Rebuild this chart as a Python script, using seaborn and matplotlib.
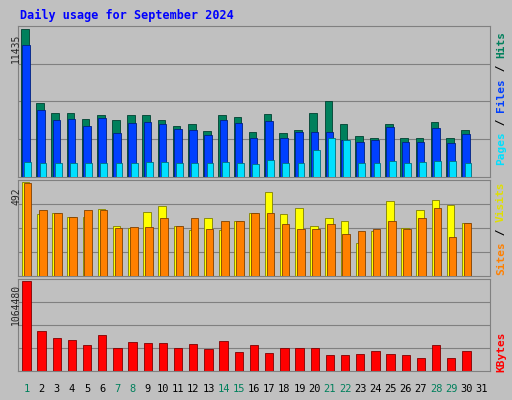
import matplotlib
matplotlib.use('Agg')
import matplotlib.pyplot as plt
import seaborn as sns
import numpy as np

days = list(range(1, 32))
weekend_days = [1, 7, 8, 14, 15, 21, 22, 28, 29]

hits = [11435, 5700, 4950, 4950, 4480, 4780, 4400, 4780, 4780, 4400, 3930, 4090, 3530, 4780,
        4620, 3450, 4860, 3370, 3610, 4950, 5880, 4090, 3130, 3050, 4090, 3050, 3050, 4240,
        2980, 3610, 0]
files = [10180, 5170, 4400, 4480, 3930, 4560, 3370, 4170, 4240, 4090, 3690, 3610, 3220, 4400,
         4170, 3050, 4320, 3050, 3450, 3450, 3450, 2820, 2740, 2820, 3840, 2740, 2740, 3770,
         2660, 3290, 0]
pages = [1180, 1100, 1100, 1100, 1100, 1100, 1100, 1100, 1180, 1180, 1100, 1100, 1100, 1180,
         1100, 1020, 1330, 1100, 1100, 2110, 2980, 2820, 1100, 1100, 1250, 1100, 1180, 1250,
         1250, 1100, 0]
visits = [492, 322, 328, 311, 311, 350, 262, 251, 333, 366, 262, 241, 301, 241, 290, 328,
          437, 322, 355, 262, 301, 290, 170, 235, 393, 251, 344, 399, 372, 279, 0]
sites = [486, 344, 328, 311, 344, 344, 251, 257, 257, 301, 262, 301, 246, 290, 290, 328,
         328, 273, 246, 246, 273, 219, 235, 246, 290, 246, 301, 355, 202, 279, 0]
kbytes = [1064480, 470000, 395000, 371000, 309000, 421000, 272000, 346000, 334000, 334000,
          272000, 322000, 260000, 358000, 223000, 309000, 210000, 272000, 272000, 272000,
          185000, 185000, 198000, 235000, 198000, 185000, 148000, 309000, 148000, 235000, 0]

sns.set_style('white')
plt.rcParams['font.family'] = ['DejaVu Sans Mono']

W, H = 512, 400
fig = plt.figure(figsize=(W / 100, H / 100), dpi=100)
fig.patch.set_facecolor('#c0c0c0')

def frac(x0, y0, x1, y1):
    return [x0 / W, 1 - y1 / H, (x1 - x0) / W, (y1 - y0) / H]

x = np.array(days)

def panel(rect, top):
    ax = fig.add_axes(rect)
    ax.set_facecolor('#c0c0c0')
    ax.set_xlim(0.45, 31.55)
    ax.set_ylim(0, top * 1.02)
    ax.set_xticks([])
    ax.set_yticks([])
    for f in (0.25, 0.5, 0.75):
        ax.axhline(top * 1.02 * f, color='#808080', lw=0.8, zorder=0)
    for s in ax.spines.values():
        s.set_color('#808080')
    return ax

ax1 = panel(frac(18, 26, 490, 177), max(hits))
ax1.bar(x - 0.1, hits, width=0.5, color='#00805c', edgecolor='#004030', lw=0.6, zorder=2)
ax1.bar(x - 0.02, files, width=0.5, color='#0040ff', edgecolor='#002080', lw=0.6, zorder=3)
ax1.bar(x + 0.1, pages, width=0.45, color='#00e0ff', edgecolor='#007080', lw=0.6, zorder=4)

ax2 = panel(frac(18, 180, 490, 276), max(visits))
ax2.bar(x - 0.05, visits, width=0.5, color='#ffff00', edgecolor='#808000', lw=0.6, zorder=2)
ax2.bar(x + 0.08, sites, width=0.5, color='#ff8000', edgecolor='#804000', lw=0.6, zorder=3)

ax3 = panel(frac(18, 279, 490, 371), max(kbytes))
ax3.bar(x, kbytes, width=0.55, color='#ff0000', edgecolor='#800000', lw=0.6, zorder=2)

fig.text(20 / W, 1 - 15 / H, 'Daily usage for September 2024', color='#0000ff',
         fontsize=8.5, fontweight='bold', va='center')
fig.text(16 / W, 1 - 48 / H, '11435', rotation=90, fontsize=7, ha='center', va='center')
fig.text(16 / W, 1 - 196 / H, '492', rotation=90, fontsize=7, ha='center', va='center')
fig.text(16 / W, 1 - 304 / H, '1064480', rotation=90, fontsize=7, ha='center', va='center')

def right_label(y, parts):
    yy = y
    for txt, col in parts:
        fig.text(501 / W, 1 - yy / H, txt, rotation=90, fontsize=8, color=col,
                 ha='center', va='bottom', fontweight='bold')
        yy -= len(txt) * 0.6 * 8 * 100 / 72

right_label(165, [('Pages', '#00e0ff'), (' / ', '#000000'), ('Files', '#0040ff'),
                  (' / ', '#000000'), ('Hits', '#00805c')])
right_label(275, [('Sites', '#ff8000'), (' / ', '#000000'), ('Visits', '#e0e000')])
right_label(372, [('KBytes', '#ff0000')])

for d in days:
    px = 18 + (d - 0.45) / 31.1 * 472
    fig.text(px / W, 1 - 389 / H, str(d), fontsize=7.5, ha='center', va='center',
             color='#00805c' if d in weekend_days else '#000000')

fig.savefig('out.png', dpi=100, facecolor=fig.get_facecolor())
